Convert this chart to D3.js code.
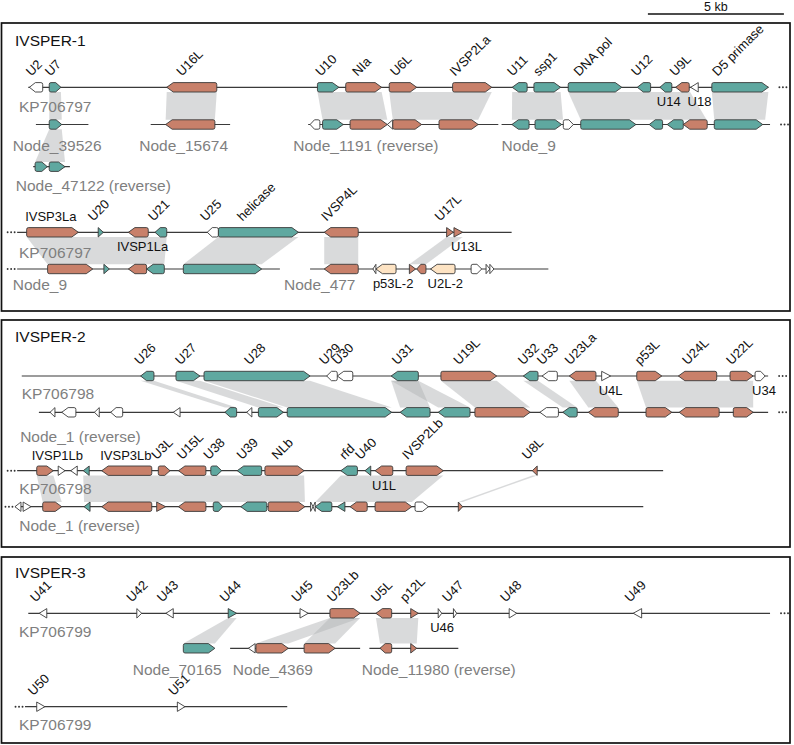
<!DOCTYPE html>
<html><head><meta charset="utf-8">
<script src="https://cdn.jsdelivr.net/npm/d3@7"></script>
<style>body{margin:0;background:#fff}svg{display:block}text{font-family:"Liberation Sans",Arial,Helvetica,sans-serif}</style>
</head><body>
<svg id="c" width="794" height="745"></svg>
<script>
// ================= DATA (genomic positions in kb, display coordinates) =================
const panelTitles = ["IVSPER-1", "IVSPER-2", "IVSPER-3"];
const scaleBarKb = 5;

const trackIds   = ["A","B1","B2","B3","B4","C","D","E1","E2","F","G","H","I","J","K1","K2","K3","L"];
const trackNames = ["KP706797","Node_39526","Node_15674","Node_1191 (reverse)","Node_9","Node_47122 (reverse)",
                    "KP706797","Node_9","Node_477","KP706798","Node_1 (reverse)","KP706798","Node_1 (reverse)",
                    "KP706799","Node_70165","Node_4369","Node_11980 (reverse)","KP706799"];
const trackStart = [1.04,1.32,5.54,11.33,18.44,1.22,0.63,0.63,11.40,0.80,1.43,0.63,0.55,1.04,null,8.46,13.58,0.92];
const trackEnd   = [28.25,3.25,8.46,18.32,28.31,2.57,18.81,10.29,20.16,28.24,28.24,24.38,23.65,28.31,null,13.24,16.85,10.56];
const trackMore  = ["end","","","","end","","start","start","","end","end","start","start","end","","","","start"];

// [track, name, start kb, end kb, strand, kind (t teal, s salmon, w white, p pale), label mode]
const genesP1 = [
 ["A","U2",1.08,1.57,-1,"w","r"],["A","U7",1.81,2.24,1,"t","r"],["A","U16L",6.13,7.97,-1,"s","r"],
 ["A","U10",11.67,12.46,1,"t","r"],["A","NIa",12.71,14.03,1,"s","r"],["A","U6L",14.31,15.32,1,"s","r"],
 ["A","IVSP2La",16.64,18.08,1,"s","r"],["A","U11",18.83,19.38,-1,"t","r"],["A","ssp1",19.63,20.61,1,"t","r"],
 ["A","DNA pol",20.89,22.86,1,"t","r"],["A","U12",23.43,23.92,-1,"t","r"],["A","U14",24.26,24.70,-1,"t","b"],
 ["A","U9L",24.84,25.34,-1,"s","r"],["A","U18",25.39,25.67,-1,"w","b"],["A","D5 primase",26.17,28.25,1,"t","r"],
 ["B1","",1.81,2.27,1,"t",""],
 ["B2","",6.09,7.90,-1,"s",""],
 ["B3","",11.40,11.76,-1,"w",""],["B3","",11.86,12.62,1,"t",""],["B3","",12.87,14.24,1,"s",""],
 ["B3","",14.24,14.44,-1,"w",""],["B3","",14.44,15.50,1,"s",""],["B3","",16.14,17.58,1,"s",""],
 ["B4","",18.82,19.45,-1,"t",""],["B4","",19.67,20.65,1,"t",""],["B4","",20.71,21.08,1,"w",""],
 ["B4","",21.35,23.38,1,"t",""],["B4","",23.87,24.36,-1,"t",""],["B4","",24.53,25.12,-1,"t",""],
 ["B4","",25.12,26.00,-1,"s",""],["B4","",26.26,28.04,1,"t",""],
 ["C","",1.29,1.74,1,"t",""],["C","",1.81,2.39,1,"t",""],
 ["D","IVSP3La",0.98,2.88,1,"s","a"],["D","U20",3.61,3.80,1,"t","r"],["D","IVSP1La",4.72,5.45,-1,"s","b"],
 ["D","U21",5.70,6.13,-1,"t","r"],["D","U25",7.62,8.03,-1,"w","r"],["D","helicase",8.03,10.97,1,"t","r"],
 ["D","IVSP4L",11.92,13.17,-1,"s","r"],["D","U17L",16.42,16.67,1,"s","r"],["D","U13L",16.69,17.01,1,"s","b"],
 ["E1","",1.75,3.41,1,"s",""],["E1","",3.82,4.02,1,"t",""],["E1","",4.72,5.39,-1,"s",""],
 ["E1","",5.39,6.04,-1,"t",""],["E1","",6.74,9.62,1,"t",""],
 ["E2","",11.92,13.17,-1,"s",""],["E2","",13.71,13.82,-1,"w",""],["E2","p53L-2",13.82,14.56,-1,"p","b"],
 ["E2","",15.05,15.28,1,"s",""],["E2","",15.32,15.66,-1,"s",""],["E2","U2L-2",15.83,16.73,-1,"p","b"],
 ["E2","",17.32,17.71,1,"w",""],["E2","",17.87,18.01,1,"w",""],["E2","",18.01,18.16,1,"w",""]
];
const genesP2 = [
 ["F","U26",5.17,5.66,-1,"t","r"],["F","U27",6.47,7.35,1,"t","r"],["F","U28",7.50,11.40,1,"t","r"],
 ["F","U29",12.01,12.40,-1,"w","r"],["F","U30",12.40,12.97,-1,"w","r"],["F","U31",14.38,15.38,-1,"t","r"],
 ["F","U19L",16.21,18.26,1,"s","r"],["F","U32",19.24,19.78,-1,"t","r"],["F","U33",19.93,20.49,-1,"w","r"],
 ["F","U23La",20.93,21.91,-1,"s","r"],["F","U4L",22.12,22.45,1,"w","b"],["F","p53L",23.41,24.33,1,"s","r"],
 ["F","U24L",24.94,26.35,-1,"s","r"],["F","U22L",26.84,27.69,1,"s","r"],["F","U34",27.76,28.13,1,"w","b"],
 ["G","",1.84,2.02,-1,"w",""],["G","",2.27,2.79,-1,"w",""],["G","",3.47,3.65,-1,"w",""],
 ["G","",4.07,4.51,-1,"w",""],["G","",6.37,6.62,-1,"w",""],["G","",8.27,8.70,-1,"t",""],
 ["G","",9.07,9.26,-1,"w",""],["G","",9.50,10.42,1,"t",""],["G","",10.56,14.40,1,"t",""],
 ["G","",14.71,15.81,-1,"t",""],["G","",16.11,17.28,-1,"t",""],["G","",17.46,19.49,1,"s",""],
 ["G","",19.85,20.53,-1,"w",""],["G","",20.69,21.22,-1,"t",""],["G","",21.63,22.73,-1,"s",""],
 ["G","",23.75,24.70,1,"s",""],["G","",24.97,26.44,-1,"s",""],["G","",26.96,27.69,1,"s",""],
 ["H","IVSP1Lb",1.35,1.96,1,"s","a"],["H","",2.14,2.39,1,"w",""],["H","",2.60,2.84,-1,"w",""],
 ["H","",3.06,3.28,-1,"t",""],["H","IVSP3Lb",3.74,5.58,-1,"s","a"],["H","U3L",5.82,6.25,1,"s","r"],
 ["H","U15L",6.56,7.57,-1,"s","r"],["H","U38",7.75,8.15,1,"t","r"],["H","U39",8.72,9.62,-1,"t","r"],
 ["H","NLb",9.74,11.18,1,"s","r"],["H","rfd",12.53,13.14,-1,"t","r"],["H","U40",13.42,13.63,-1,"t","r"],
 ["H","U1L",13.79,14.44,-1,"s","b"],["H","IVSP2Lb",14.93,16.30,1,"s","r"],["H","U8L",19.57,19.75,-1,"s","r"],
 ["I","",0.55,0.77,-1,"w",""],["I","",0.85,1.14,1,"w",""],["I","",1.57,2.27,1,"s",""],
 ["I","",3.09,3.31,-1,"t",""],["I","",3.74,5.58,-1,"s",""],["I","",5.76,6.09,1,"s",""],
 ["I","",6.56,7.57,-1,"s",""],["I","",7.84,8.19,1,"t",""],["I","",8.85,9.81,-1,"t",""],
 ["I","",9.86,11.21,1,"s",""],["I","",11.42,11.51,1,"w",""],["I","",11.51,11.59,-1,"w",""],
 ["I","",11.59,12.20,-1,"t",""],["I","",12.40,12.68,-1,"t",""],["I","",12.87,13.50,-1,"s",""],
 ["I","",13.79,15.14,1,"s",""],["I","",15.26,15.75,1,"w",""],["I","",16.85,17.01,1,"s",""]
];
const genesP3 = [
 ["J","U41",1.44,1.72,-1,"w","r"],["J","U42",5.03,5.21,1,"w","r"],["J","U43",6.10,6.37,-1,"w","r"],
 ["J","U44",8.39,8.70,1,"t","r"],["J","U45",11.03,11.33,1,"w","r"],["J","U23Lb",12.13,13.24,1,"s","r"],
 ["J","U5L",13.82,14.40,-1,"s","r"],["J","p12L",15.10,15.38,1,"s","r"],["J","U46",16.11,16.24,1,"w","b"],
 ["J","U47",16.67,16.79,1,"w","r"],["J","U48",18.72,19.00,1,"w","r"],["J","U49",23.28,23.59,-1,"w","r"],
 ["K1","",6.74,7.90,1,"t",""],
 ["K2","",9.13,9.38,-1,"w",""],["K2","",9.41,10.60,1,"s",""],["K2","",11.18,12.32,1,"s",""],
 ["K3","",13.97,14.40,-1,"s",""],["K3","",15.10,15.32,1,"s",""],
 ["L","U50",1.35,1.65,1,"w","r"],["L","U51",6.52,6.80,1,"w","r"]
];

// [top track, bottom track, top start, top end, bottom start, bottom end]
const linksP1 = [
 ["A","B1",1.81,2.24,1.81,2.27],["B1","C",1.81,2.27,1.29,2.39],["A","B2",6.13,7.97,6.09,7.90],
 ["A","B3",11.67,14.03,11.86,14.24],["A","B3",14.31,18.08,14.44,17.58],["A","B4",18.83,20.61,18.82,20.70],
 ["A","B4",20.89,25.37,21.35,25.98],["A","B4",26.17,28.25,26.26,28.13],
 ["D","E1",0.98,6.13,1.75,6.04],["D","E1",8.03,10.97,6.74,9.62],["D","E2",11.92,13.17,11.92,13.17],
 ["D","E2",16.42,17.01,15.05,15.66]
];
const linksP2 = [
 ["F","G",5.17,5.66,8.27,8.70],["F","G",6.47,7.35,9.50,10.42],["F","G",7.50,11.40,10.56,14.40],
 ["F","G",14.38,15.38,14.71,15.81],["F","G",14.38,15.38,16.11,17.28],["F","G",16.21,18.26,17.46,19.49],
 ["F","G",19.24,19.78,20.69,21.22],["F","G",20.93,21.91,21.63,22.73],["F","G",23.41,27.69,23.75,27.69],
 ["H","I",1.35,1.96,1.57,2.27],["H","I",3.06,11.18,3.09,11.21],["H","I",12.53,16.30,11.59,15.14],
 ["H","I",19.57,19.75,16.85,17.01]
];
const linksP3 = [
 ["J","K1",8.39,8.70,6.74,7.90],["J","K2",12.13,13.24,9.41,10.60],["J","K2",12.13,13.24,11.18,12.32],
 ["J","K3",13.82,15.38,13.97,15.32]
];

// ================= LAYOUT & STYLE =================
const W = 794, H = 745;
const trackY = {A:87.3,B1:124.5,B2:124.5,B3:124.5,B4:124.5,C:166.7,D:232.3,E1:269,E2:269,F:376,G:412.3,
                H:470.7,I:506.7,J:613.3,K1:648.3,K2:648.3,K3:648.3,L:706.7};
const trackLabelX = {A:0.70,B1:0.47,B2:5.12,B3:10.78,B4:18.44,C:0.58,D:0.70,E1:0.47,E2:10.44,F:0.80,G:0.74,
                     H:0.71,I:0.71,J:0.70,K1:4.88,K2:8.56,K3:13.30,L:0.70};
const trackLabelY = {A:111.5,B1:151,B2:151,B3:151,B4:151,C:191,D:258,E1:290,E2:290,F:399,G:441.5,H:494,I:531,
                     J:637,K1:675,K2:675,K3:675,L:730};
const panelBoxes = [[23,311],[320,547],[557,743]];
const titleBaselines = [46,342,578];
const labelNudge = {IVSP1La:-8.5, U46:-5, IVSP1Lb:-3.5};
const fills = {t:"#5fa8a0", s:"#c8806a", w:"#ffffff", p:"#fde3c3"};
const GH = 4.7;

const svg = d3.select("#c");
const x = d3.scaleLinear().domain([0, W/27.2]).range([0, W]);

// panels
svg.selectAll("rect.panel").data(panelBoxes).join("rect").attr("class","panel")
  .attr("x",1.5).attr("y",d=>d[0]).attr("width",788.5).attr("height",d=>d[1]-d[0])
  .attr("fill","none").attr("stroke","#111").attr("stroke-width",1.7);
svg.selectAll("text.title").data(panelTitles).join("text").attr("class","title")
  .attr("x",15).attr("y",(d,i)=>titleBaselines[i]).attr("font-size",15.5).attr("fill","#111").text(d=>d);

// scale bar
const sb0 = 23.82;
svg.append("line").attr("x1",x(sb0)).attr("x2",x(sb0+scaleBarKb)).attr("y1",14).attr("y2",14)
  .attr("stroke","#111").attr("stroke-width",1.5);
svg.append("text").attr("x",(x(sb0)+x(sb0+scaleBarKb))/2).attr("y",10.5).attr("text-anchor","middle")
  .attr("font-size",12.5).attr("fill","#111").text(scaleBarKb+" kb");

// links
const allLinks = linksP1.concat(linksP2, linksP3);
svg.append("g").selectAll("path").data(allLinks).join("path")
  .attr("d", d => {
    const yt = trackY[d[0]] + GH, yb = trackY[d[1]] - GH;
    return `M${x(d[2])},${yt}L${x(d[3])},${yt}L${x(d[5])},${yb}L${x(d[4])},${yb}Z`;
  })
  .attr("fill","#b4b5b8").attr("fill-opacity",0.5);

// track labels
const tracks = trackIds.map((id,i)=>({id, name:trackNames[i], s:trackStart[i], e:trackEnd[i], more:trackMore[i]}));
svg.append("g").selectAll("text").data(tracks).join("text")
  .attr("x",d=>x(trackLabelX[d.id])).attr("y",d=>trackLabelY[d.id])
  .attr("font-size",15.5).attr("fill","#7f7f7f").text(d=>d.name);

// backbones
const gl = svg.append("g");
gl.selectAll("line").data(tracks.filter(d=>d.s!==null)).join("line")
  .attr("x1",d=>x(d.s)).attr("x2",d=>x(d.e)).attr("y1",d=>trackY[d.id]).attr("y2",d=>trackY[d.id])
  .attr("stroke","#3a3a3a").attr("stroke-width",1.2);
tracks.filter(d=>d.more).forEach(d=>{
  const x0 = d.more==="end" ? x(d.e)+11 : x(d.s)-9.5;
  [0,3.5,7].forEach(o=>gl.append("circle").attr("cx",x0+o).attr("cy",trackY[d.id]).attr("r",0.95).attr("fill","#333"));
});

// genes
function genePath(g){
  const x0 = x(g.s), x1 = x(g.e), y = trackY[g.t], w = x1-x0, h = GH, r = 1.8;
  if (w < 9) {
    return g.dir>0 ? `M${x0},${y-h}L${x1},${y}L${x0},${y+h}Z` : `M${x1},${y-h}L${x0},${y}L${x1},${y+h}Z`;
  }
  const tip = Math.min(6.5, w*0.45);
  if (g.dir>0) {
    return `M${x0+r},${y-h}L${x1-tip},${y-h}L${x1},${y}L${x1-tip},${y+h}L${x0+r},${y+h}`+
           `Q${x0},${y+h} ${x0},${y+h-r}L${x0},${y-h+r}Q${x0},${y-h} ${x0+r},${y-h}Z`;
  }
  return `M${x1-r},${y-h}L${x0+tip},${y-h}L${x0},${y}L${x0+tip},${y+h}L${x1-r},${y+h}`+
         `Q${x1},${y+h} ${x1},${y+h-r}L${x1},${y-h+r}Q${x1},${y-h} ${x1-r},${y-h}Z`;
}
const genes = genesP1.concat(genesP2, genesP3).map(a=>({t:a[0], name:a[1], s:a[2], e:a[3], dir:a[4], kind:a[5], lab:a[6]}));
svg.append("g").selectAll("path").data(genes).join("path")
  .attr("d",genePath).attr("fill",d=>fills[d.kind]).attr("stroke","#3a3a3a").attr("stroke-width",0.9)
  .attr("stroke-linejoin","round");

// gene labels
const gt = svg.append("g");
genes.filter(d=>d.lab).forEach(d=>{
  const y = trackY[d.t], nud = labelNudge[d.name]||0;
  if (d.lab==="r") {
    const holder = gt.append("g");
    const t = holder.append("text").attr("x",0).attr("y",0).attr("font-size",13).attr("fill","#111").text(d.name);
    const L = t.node().getComputedTextLength();
    const xc = (x(d.s)+x(d.e))/2;
    const bx = xc - 0.354*L + 1, by = y - 10.5;
    holder.attr("transform","translate("+bx+","+by+") rotate(-45)");
  } else if (d.lab==="b") {
    gt.append("text").attr("font-size",13).attr("fill","#111").attr("x",x(d.s)-3+nud).attr("y",y+19).text(d.name);
  } else {
    gt.append("text").attr("font-size",13).attr("fill","#111").attr("x",x(d.s)-1.5+nud).attr("y",y-11).text(d.name);
  }
});
</script>
</body></html>
